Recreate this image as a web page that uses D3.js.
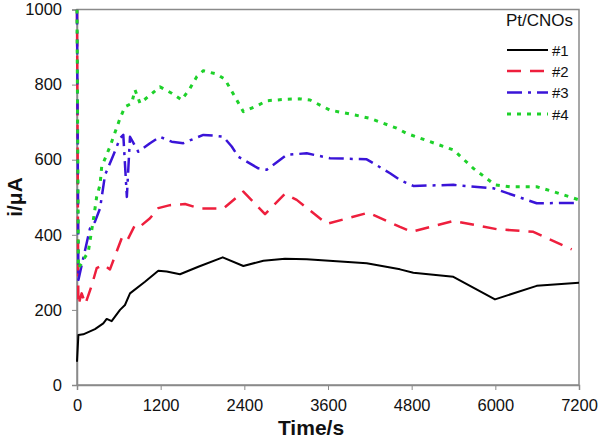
<!DOCTYPE html>
<html>
<head>
<meta charset="utf-8">
<script src="https://cdn.jsdelivr.net/npm/d3@7"></script>
<style>
html,body{margin:0;padding:0;background:#fff;}
svg{display:block;font-family:"Liberation Sans",Arial,sans-serif;}
</style>
</head>
<body>
<svg id="chart" width="600" height="441"></svg>
<script>
// ---- data ----
const seriesNames = ["#1", "#2", "#3", "#4"];
const legendTitle = "Pt/CNOs";
const xTicks = [0, 1200, 2400, 3600, 4800, 6000, 7200];
const yTicks = [0, 200, 400, 600, 800, 1000];

const t1 = [0, 20, 90, 258, 377, 426, 497, 617, 688, 760, 975, 1166, 1286, 1477, 1740, 2090, 2386, 2673, 2983, 3295, 4155, 4633, 4824, 5398, 5995, 6593, 7200];
const v1 = [62, 133, 135, 149, 164, 176, 170, 200, 213, 244, 275, 304, 302, 295, 315, 340, 317, 331, 336, 335, 324, 308, 299, 288, 228, 264, 272];

const t2 = [0, 19, 67, 120, 211, 282, 377, 473, 641, 713, 832, 904, 1047, 1166, 1334, 1549, 1764, 2099, 2386, 2697, 2983, 3151, 3582, 4179, 4633, 4800, 5398, 6019, 6545, 7095];
const v2 = [1000, 213, 244, 216, 265, 311, 320, 308, 391, 382, 426, 422, 444, 471, 479, 482, 470, 470, 515, 455, 509, 493, 429, 459, 421, 408, 437, 415, 408, 361];

const t3 = [0, 20, 186, 258, 330, 402, 521, 617, 664, 715, 760, 880, 1047, 1190, 1358, 1525, 1692, 1812, 1955, 2099, 2219, 2314, 2600, 2721, 3008, 3295, 3629, 4155, 4490, 4633, 4824, 5398, 5971, 6593, 7200];
const v3 = [1000, 280, 417, 435, 470, 559, 612, 657, 666, 501, 661, 621, 644, 661, 648, 644, 657, 666, 664, 661, 635, 608, 577, 573, 613, 617, 604, 601, 564, 546, 530, 533, 524, 484, 485];

const t4 = [0, 20, 162, 234, 282, 330, 354, 473, 617, 688, 784, 832, 904, 1047, 1190, 1358, 1501, 1621, 1717, 1812, 2004, 2123, 2195, 2291, 2386, 2578, 2721, 3008, 3199, 3342, 3629, 3988, 4203, 4585, 4729, 5398, 5685, 5995, 6210, 6593, 6832, 7200];
const v4 = [1000, 311, 355, 439, 501, 533, 581, 635, 710, 741, 750, 786, 750, 772, 794, 777, 759, 790, 821, 837, 828, 814, 790, 759, 728, 743, 757, 761, 762, 759, 732, 719, 710, 684, 670, 626, 577, 533, 528, 528, 515, 493];

const seriesT = [t1, t2, t3, t4];
const seriesV = [v1, v2, v3, v4];

// ---- styles ----
const colors = ["#000000", "#ee1f3d", "#3a14d8", "#1ed12a"];
const dashes = [null, "14,9", "15,6,3,6", "4,6"];
const widths = [2, 2.5, 2.5, 3];

const svg = d3.select("#chart");
const L = 77, R = 579, T = 9.5, B = 385;

const x = d3.scaleLinear().domain([0, 7200]).range([L, R]);
const y = d3.scaleLinear().domain([0, 1000]).range([B, T]);

svg.append("defs").append("clipPath").attr("id", "clip")
  .append("rect").attr("x", L - 2).attr("y", T).attr("width", R - L + 2).attr("height", B - T);

// frame
const axisColor = "#8a8a8a";
svg.append("rect").attr("x", L).attr("y", T).attr("width", R - L).attr("height", B - T)
  .attr("fill", "none").attr("stroke", axisColor).attr("stroke-width", 1.5);

// axes
const xAxis = d3.axisBottom(x).tickValues(xTicks).tickSize(5).tickPadding(9).tickFormat(d3.format("d"));
const yAxis = d3.axisLeft(y).tickValues(yTicks).tickSize(5).tickPadding(10).tickFormat(d3.format("d"));

const gx = svg.append("g").attr("transform", `translate(0,${B})`).call(xAxis);
const gy = svg.append("g").attr("transform", `translate(${L},0)`).call(yAxis);
[gx, gy].forEach(g => {
  g.select(".domain").attr("stroke", axisColor).attr("stroke-width", 1.5);
  g.selectAll(".tick line").attr("stroke", axisColor).attr("stroke-width", 1);
  g.selectAll(".tick text").attr("fill", "#111").style("font-size", "16.5px")
    .style("font-family", "'Liberation Sans', Arial, sans-serif");
});

// lines
const line = d3.line().x(d => x(d[0])).y(d => y(d[1]));
const plot = svg.append("g").attr("clip-path", "url(#clip)");
seriesT.forEach((ts, i) => {
  const pts = ts.map((t, j) => [t, seriesV[i][j]]);
  plot.append("path").datum(pts)
    .attr("d", line)
    .attr("fill", "none")
    .attr("stroke", colors[i])
    .attr("stroke-width", widths[i])
    .attr("stroke-dasharray", dashes[i])
    .attr("stroke-linejoin", "round");
});

// axis titles
svg.append("text").attr("x", 311).attr("y", 435).attr("text-anchor", "middle")
  .style("font-size", "21px").style("font-weight", "bold").attr("fill", "#111").text("Time/s");
svg.append("text").attr("transform", "translate(22,197) rotate(-90)").attr("text-anchor", "middle")
  .style("font-size", "21px").style("font-weight", "bold").attr("fill", "#111").text("i/μA");

// legend
const lg = svg.append("g");
lg.append("text").attr("x", 573).attr("y", 26).attr("text-anchor", "end")
  .style("font-size", "17px").attr("fill", "#111").text(legendTitle);
const legY = [50, 71, 92.5, 114];
seriesNames.forEach((n, i) => {
  lg.append("line").attr("x1", 507).attr("x2", 548).attr("y1", legY[i]).attr("y2", legY[i])
    .attr("stroke", colors[i]).attr("stroke-width", widths[i]).attr("stroke-dasharray", dashes[i]);
  lg.append("text").attr("x", 552).attr("y", legY[i] + 5.5)
    .style("font-size", "15px").attr("fill", "#111").text(n);
});
</script>
</body>
</html>
